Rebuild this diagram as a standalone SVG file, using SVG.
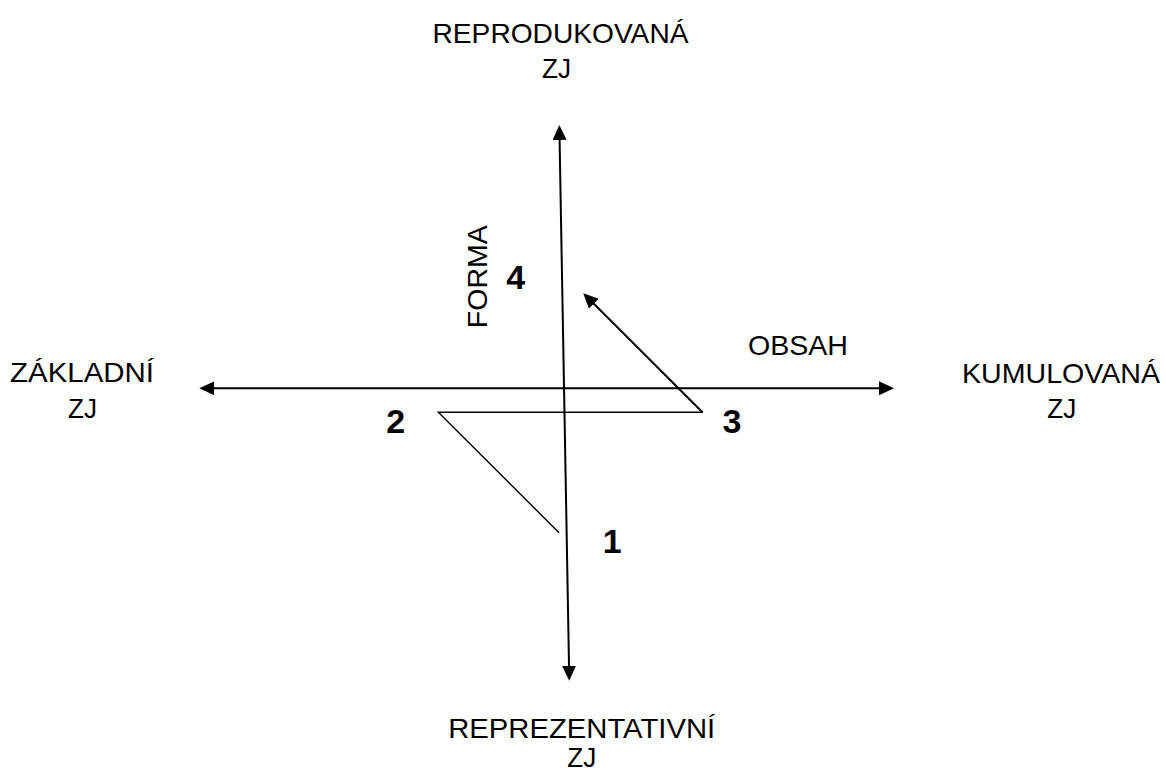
<svg xmlns="http://www.w3.org/2000/svg" width="1166" height="771" viewBox="0 0 1166 771">
<style>
.lbl{font-family:"Liberation Sans",Arial,sans-serif;font-size:27.5px;fill:#000;text-anchor:middle}
.num{font-family:"Liberation Sans",Arial,sans-serif;font-size:34px;font-weight:bold;fill:#000;text-anchor:middle}
.axis{stroke:#000;stroke-width:2;fill:none}
.thin{stroke:#000;stroke-width:1.4;fill:none}
</style>
<defs>
<marker id="ah" viewBox="0 0 15 14" refX="10" refY="7" markerWidth="15" markerHeight="14" markerUnits="userSpaceOnUse" orient="auto-start-reverse">
<path d="M0,0 L15,7 L0,14 Z" fill="#000"/>
</marker>
</defs>
<rect width="1166" height="771" fill="#fff"/>
<g id="connectors">
<line class="axis" x1="559.4" y1="130" x2="569.2" y2="675.7" marker-start="url(#ah)" marker-end="url(#ah)"/>
<line class="axis" x1="204.3" y1="388.3" x2="889" y2="388.3" marker-start="url(#ah)" marker-end="url(#ah)"/>
<polyline class="thin" points="559,532.7 438.3,412.3 702.7,412.3"/>
<line class="axis" x1="702.7" y1="412.5" x2="586.8" y2="296.8" marker-end="url(#ah)"/>
</g>
<g id="top-label"><text class="lbl" x="560.5" y="43" textLength="256" lengthAdjust="spacingAndGlyphs">REPRODUKOVANÁ</text><text class="lbl" x="556.5" y="78" textLength="29" lengthAdjust="spacingAndGlyphs">ZJ</text></g>
<g id="left-label"><text class="lbl" x="82" y="382" textLength="144" lengthAdjust="spacingAndGlyphs">ZÁKLADNÍ</text><text class="lbl" x="82.5" y="418" textLength="29" lengthAdjust="spacingAndGlyphs">ZJ</text></g>
<g id="right-label"><text class="lbl" x="1061" y="383" textLength="198" lengthAdjust="spacingAndGlyphs">KUMULOVANÁ</text><text class="lbl" x="1061.7" y="418" textLength="29" lengthAdjust="spacingAndGlyphs">ZJ</text></g>
<g id="bottom-label"><text class="lbl" x="581.7" y="738" textLength="267" lengthAdjust="spacingAndGlyphs">REPREZENTATIVNÍ</text><text class="lbl" x="581.7" y="767" textLength="29" lengthAdjust="spacingAndGlyphs">ZJ</text></g>
<g id="obsah"><text class="lbl" x="798" y="355" textLength="100" lengthAdjust="spacingAndGlyphs">OBSAH</text></g>
<g id="forma"><text class="lbl" transform="translate(486.5,276.7) rotate(-90)" x="0" y="0" textLength="103" lengthAdjust="spacingAndGlyphs">FORMA</text></g>
<g id="n1"><text class="num" x="612.3" y="553">1</text></g>
<g id="n2"><text class="num" x="395.8" y="433">2</text></g>
<g id="n3"><text class="num" x="732" y="433">3</text></g>
<g id="n4"><text class="num" x="515.8" y="289.3">4</text></g>
</svg>
